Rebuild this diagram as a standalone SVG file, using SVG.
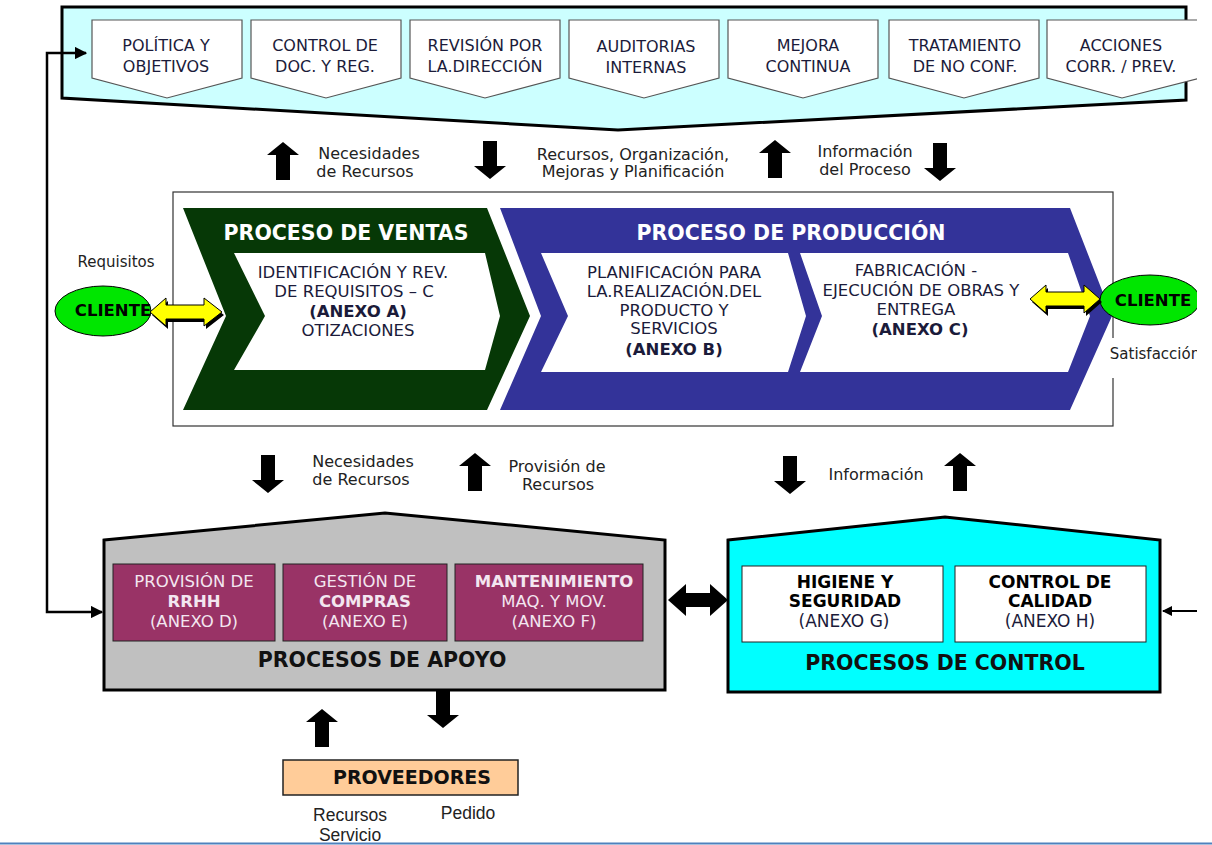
<svg xmlns="http://www.w3.org/2000/svg" xmlns:xlink="http://www.w3.org/1999/xlink" width="1212" height="845" viewBox="0 0 1212 845">
<defs>
<style>
.t{font-family:"DejaVu Sans",Verdana,sans-serif;font-size:16.5px;fill:#1b1b3a;text-anchor:middle}
.c{font-size:16px}
.b{font-weight:bold}
.k{fill:#000}
.lab{font-family:"DejaVu Sans",Verdana,sans-serif;font-size:16px;fill:#222;text-anchor:middle}
.hd{font-family:"DejaVu Sans",Verdana,sans-serif;font-size:20.5px;font-weight:bold;fill:#fff;text-anchor:middle}
.hk{font-family:"DejaVu Sans",Verdana,sans-serif;font-size:20.5px;font-weight:bold;fill:#111;text-anchor:middle}
.wt{font-family:"DejaVu Sans",Verdana,sans-serif;font-size:16.5px;fill:#f3e6f0;text-anchor:middle}
.sm{font-family:"Liberation Sans",Arial,sans-serif;font-size:17.5px;fill:#222;text-anchor:middle}
.pent{fill:#fff;stroke:#555;stroke-width:1.2}
.ylw{fill:#ffff00;stroke:#000;stroke-width:1}
.cli{fill:#00e600;stroke:#000;stroke-width:1}
</style>
<path id="up" d="M0,-19 L16,-6 L7,-6 L7,19 L-7,19 L-7,-6 L-16,-6 Z"/>
<marker id="ah" viewBox="0 0 10 10" refX="9" refY="5" markerWidth="5" markerHeight="5" orient="auto-start-reverse" markerUnits="strokeWidth">
<path d="M0,0 L10,5 L0,10 Z" fill="#000"/>
</marker>
<clipPath id="clip"><rect x="0" y="0" width="1197" height="845"/></clipPath>
</defs>
<rect width="1212" height="845" fill="#fff"/>
<g clip-path="url(#clip)">
<g id="banner">
<polygon points="62,7 1186,7 1186,100 618,130 62,98" fill="#ccffff" stroke="#000" stroke-width="3"/>
</g>
<g id="top-politica"><polygon class="pent" points="92,20 242,20 242,78 167,98 92,78"/><text class="t c" x="166" y="51">POLÍTICA Y</text><text class="t c" x="166" y="72">OBJETIVOS</text></g>
<g id="top-control"><polygon class="pent" points="251,20 401,20 401,78 326,98 251,78"/><text class="t c" x="325" y="51">CONTROL DE</text><text class="t c" x="325" y="72">DOC. Y REG.</text></g>
<g id="top-revision"><polygon class="pent" points="410,20 560,20 560,78 485,98 410,78"/><text class="t c" x="485" y="51">REVISIÓN POR</text><text class="t c" x="485" y="72">LA.DIRECCIÓN</text></g>
<g id="top-auditorias"><polygon class="pent" points="569,20 719,20 719,78 644,98 569,78"/><text class="t c" x="646" y="52">AUDITORIAS</text><text class="t c" x="646" y="73">INTERNAS</text></g>
<g id="top-mejora"><polygon class="pent" points="728,20 878,20 878,78 803,98 728,78"/><text class="t c" x="808" y="51">MEJORA</text><text class="t c" x="808" y="72">CONTINUA</text></g>
<g id="top-tratamiento"><polygon class="pent" points="889,20 1039,20 1039,78 964,98 889,78"/><text class="t c" x="965" y="51">TRATAMIENTO</text><text class="t c" x="965" y="72">DE NO CONF.</text></g>
<g id="top-acciones"><polygon class="pent" points="1047,20 1200,20 1200,78 1122,98 1047,78"/><text class="t c" x="1121" y="51">ACCIONES</text><text class="t c" x="1121" y="72">CORR. / PREV.</text></g>

<g id="frame">
<rect x="173" y="192" width="940" height="234" fill="#fff" stroke="#333" stroke-width="1.2"/>
</g>
<g id="ventas">
<polygon points="183,208 487,208 530,316 487,410 183,410 226,316" fill="#063806"/>
<text class="hd" x="346" y="240">PROCESO DE VENTAS</text>
<polygon points="234,253 485,253 500,316 485,370 234,370 265,316" fill="#fff"/>
<text class="t" x="353" y="278">IDENTIFICACIÓN Y REV.</text>
<text class="t" x="354" y="297">DE REQUISITOS – C</text>
<text class="t b" x="358" y="317">(ANEXO A)</text>
<text class="t" x="358" y="336">OTIZACIONES</text>
</g>
<g id="produccion">
<polygon points="500,208 1070,208 1112,316 1070,410 500,410 541,316" fill="#333399"/>
<text class="hd" x="791" y="240">PROCESO DE PRODUCCIÓN</text>
<polygon points="541,253 788,253 806,316 788,372 541,372 568,316" fill="#fff"/>
<text class="t" x="674" y="278">PLANIFICACIÓN PARA</text>
<text class="t" x="674" y="297">LA.REALIZACIÓN.DEL</text>
<text class="t" x="674" y="316">PRODUCTO Y</text>
<text class="t" x="674" y="334">SERVICIOS</text>
<text class="t b" x="674" y="355">(ANEXO B)</text>
<polygon points="800,253 1068,253 1090,316 1068,372 800,372 822,316" fill="#fff"/>
<text class="t" x="916" y="276">FABRICACIÓN -</text>
<text class="t" x="921" y="296">EJECUCIÓN DE OBRAS Y</text>
<text class="t" x="916" y="315">ENTREGA</text>
<text class="t b" x="920" y="335">(ANEXO C)</text>
</g>
<g id="cliente-left">
<text class="lab" x="116" y="267" style="font-size:15px">Requisitos</text>
<ellipse class="cli" cx="103" cy="311" rx="48" ry="25"/>
<text class="t b k" x="113" y="316" style="fill:#000">CLIENTE</text>
</g>
<g id="cliente-right">
<rect x="1104" y="338" width="100" height="40" fill="#fff"/>
<ellipse class="cli" cx="1150" cy="300" rx="50" ry="25"/>
<text class="t b" x="1153" y="306" style="fill:#000">CLIENTE</text>
<text class="lab" x="1155" y="359" style="font-size:15px">Satisfacción</text>
</g>

<g id="apoyo">
<polygon points="104,540 385,513 665,540 665,690 104,690" fill="#c0c0c0" stroke="#000" stroke-width="3"/>
<rect x="113" y="564" width="162" height="77" fill="#993366" stroke="#222" stroke-width="1"/>
<text class="wt" x="194" y="587">PROVISIÓN DE</text>
<text class="wt b" x="194" y="607">RRHH</text>
<text class="wt" x="194" y="627">(ANEXO D)</text>
<rect x="283" y="564" width="164" height="77" fill="#993366" stroke="#222" stroke-width="1"/>
<text class="wt" x="365" y="587">GESTIÓN DE</text>
<text class="wt b" x="365" y="607">COMPRAS</text>
<text class="wt" x="365" y="627">(ANEXO E)</text>
<rect x="455" y="564" width="188" height="77" fill="#993366" stroke="#222" stroke-width="1"/>
<text class="wt b" x="554" y="587">MANTENIMIENTO</text>
<text class="wt" x="554" y="607">MAQ. Y MOV.</text>
<text class="wt" x="554" y="627">(ANEXO F)</text>
<text class="hk" x="382" y="667">PROCESOS DE APOYO</text>
</g>
<g id="control">
<polygon points="728,540 945,517 1160,540 1160,692 728,692" fill="#00ffff" stroke="#000" stroke-width="3"/>
<rect x="742" y="566" width="201" height="76" fill="#fff" stroke="#222" stroke-width="1"/>
<text class="t b" x="845" y="588" style="fill:#000;font-size:17px">HIGIENE Y</text>
<text class="t b" x="845" y="607" style="fill:#000;font-size:17px">SEGURIDAD</text>
<text class="t" x="844" y="627" style="font-size:17px">(ANEXO G)</text>
<rect x="955" y="566" width="191" height="76" fill="#fff" stroke="#222" stroke-width="1"/>
<text class="t b" x="1050" y="588" style="fill:#000;font-size:17px">CONTROL DE</text>
<text class="t b" x="1050" y="607" style="fill:#000;font-size:17px">CALIDAD</text>
<text class="t" x="1050" y="627" style="font-size:17px">(ANEXO H)</text>
<text class="hk" x="945" y="670">PROCESOS DE CONTROL</text>
</g>
<g id="proveedores">
<rect x="283" y="760" width="235" height="35" fill="#ffcc99" stroke="#222" stroke-width="1.5"/>
<text class="hk" x="412" y="784" style="font-size:19px">PROVEEDORES</text>
</g>

<g id="connectors">
<path d="M86,53 H47 V612 H102" fill="none" stroke="#000" stroke-width="2.5" marker-start="url(#ah)" marker-end="url(#ah)"/>
<path d="M1197,611 H1163" fill="none" stroke="#000" stroke-width="2" marker-end="url(#ah)"/>
<use href="#up" x="283" y="161"/>
<use href="#up" transform="translate(490,160) rotate(180)"/>
<use href="#up" x="775" y="159"/>
<use href="#up" transform="translate(940,162) rotate(180)"/>
<use href="#up" transform="translate(268,474) rotate(180)"/>
<use href="#up" x="475" y="472"/>
<use href="#up" transform="translate(790,475) rotate(180)"/>
<use href="#up" x="960" y="472"/>
<use href="#up" x="322" y="728"/>
<use href="#up" transform="translate(443,709) rotate(180)"/>
<polygon points="152,315 168,301 168,308 206,308 206,301 224,315 206,329 206,322 168,322 168,329" fill="#000"/>
<polygon class="ylw" points="150,312 166,298 166,305 204,305 204,298 222,312 204,326 204,319 166,319 166,326"/>
<polygon points="1032,302 1048,288 1048,295 1086,295 1086,288 1102,302 1086,316 1086,309 1048,309 1048,316" fill="#000"/>
<polygon class="ylw" points="1030,299 1046,285 1046,292 1084,292 1084,285 1100,299 1084,313 1084,306 1046,306 1046,313"/>
<polygon points="668,600 686,584 686,593 710,593 710,584 728,600 710,616 710,607 686,607 686,616" fill="#000"/>
</g>
<g id="labels">
<text class="lab" x="369" y="159">Necesidades</text>
<text class="lab" x="365" y="177">de Recursos</text>
<text class="lab" x="633" y="160">Recursos, Organización,</text>
<text class="lab" x="633" y="177">Mejoras y Planificación</text>
<text class="lab" x="865" y="157">Información</text>
<text class="lab" x="865" y="175">del Proceso</text>
<text class="lab" x="363" y="467">Necesidades</text>
<text class="lab" x="361" y="485">de Recursos</text>
<text class="lab" x="557" y="472">Provisión de</text>
<text class="lab" x="558" y="490">Recursos</text>
<text class="lab" x="876" y="480">Información</text>
<text class="sm" x="350" y="821">Recursos</text>
<text class="sm" x="350" y="841">Servicio</text>
<text class="sm" x="468" y="819">Pedido</text>
</g>
</g>
<line x1="0" y1="843.5" x2="1212" y2="843.5" stroke="#4f81bd" stroke-width="2"/>
</svg>
